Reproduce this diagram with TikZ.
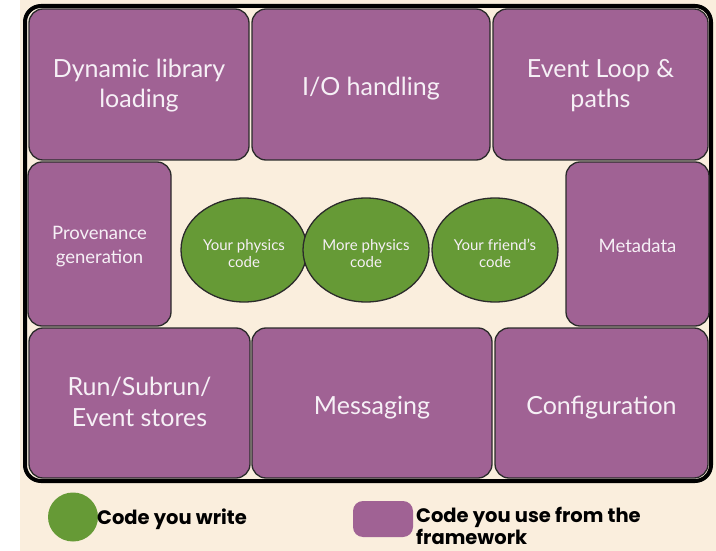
\documentclass[tikz,border=0pt]{standalone}
\usepackage{fontspec}
\setmainfont{Lato}
\newfontfamily\legendfont{Poppins}
\usetikzlibrary{shapes.geometric}
\definecolor{cream}{HTML}{FAEEDD}
\definecolor{plum}{HTML}{A06294}
\definecolor{leaf}{HTML}{669A36}
\definecolor{edge}{HTML}{2B2B2B}
\definecolor{boxtext}{HTML}{F6F0F6}
\tikzset{
  fw/.style={draw=edge, line width=1.3pt, fill=plum, rounded corners=14pt,
    text=boxtext, align=center, inner sep=0pt},
  mine/.style={ellipse, draw=edge, line width=1.3pt, fill=leaf, text=boxtext,
    align=center, inner sep=0pt, minimum width=126pt, minimum height=104pt,
    font=\fontsize{15}{17}\selectfont, text height=39pt, text depth=5pt},
  % text boxes are given fixed height/depth so the baselines sit as printed
  big/.style={font=\fontsize{25}{31}\selectfont, text height=28pt, text depth=5pt},
  bigtwo/.style={font=\fontsize{25}{31}\selectfont, text height=52pt, text depth=5pt},
  mid/.style={font=\fontsize{18.5}{24}\selectfont, text height=22pt, text depth=5pt},
  midtwo/.style={font=\fontsize{18.5}{24}\selectfont, text height=43pt, text depth=5pt},
  legendtext/.style={font=\legendfont\bfseries\fontsize{19.5}{22}\selectfont,
    align=left, anchor=base west, inner sep=0pt, text=black}
}
\begin{document}
\begin{tikzpicture}[x=1pt, y=-1pt]
  % page and background
  \useasboundingbox (0,0) rectangle (716,551);
  \fill[white] (0,0) rectangle (716,551);
  \fill[cream] (20,0) rectangle (716,551);
  % outer frame
  \draw[black, line width=4pt, rounded corners=16pt, fill=cream] (25,6) rectangle (711,481);

  % top row
  \node[fw, bigtwo, minimum width=220pt, minimum height=151pt] (dyn) at (139,84.5) {Dynamic library\\loading};
  \node[fw, big, minimum width=238pt, minimum height=151pt] (io) at (371,84.5) {I/O handling};
  \node[fw, bigtwo, minimum width=215pt, minimum height=151pt] (loop) at (600.5,84.5) {Event Loop \&\\paths};

  % middle row
  \node[fw, midtwo, minimum width=143pt, minimum height=164pt] (prov) at (99.5,244) {Provenance\\generation};
  \node[fw, mid, minimum width=143pt, minimum height=164pt] (meta) at (637.5,244) {Metadata};
  \node[mine] (phys) at (244,250) {Your physics\\code};
  \node[mine] (more) at (366,250) {More physics\\code};
  \node[mine] (friend) at (495,250) {Your friend's\\code};

  % bottom row
  \node[fw, bigtwo, minimum width=221pt, minimum height=150pt] (stores) at (139.5,403) {Run/Subrun/\\Event stores};
  \node[fw, big, minimum width=240pt, minimum height=150pt] (msg) at (372,403) {Messaging};
  \node[fw, big, minimum width=213pt, minimum height=150pt] (conf) at (601.5,403) {Configuration};

  % legend
  \node[ellipse, fill=leaf, minimum width=50pt, minimum height=49pt, inner sep=0pt] (keymine) at (73,517) {};
  \node[legendtext] (keymine-text) at (97,524) {Code you write};
  \node[fill=plum, rounded corners=10pt, minimum width=60pt, minimum height=36pt, inner sep=0pt] (keyfw) at (383,519) {};
  \node[legendtext] (keyfw-text) at (416,544) {Code you use from the\\framework};
\end{tikzpicture}
\end{document}
